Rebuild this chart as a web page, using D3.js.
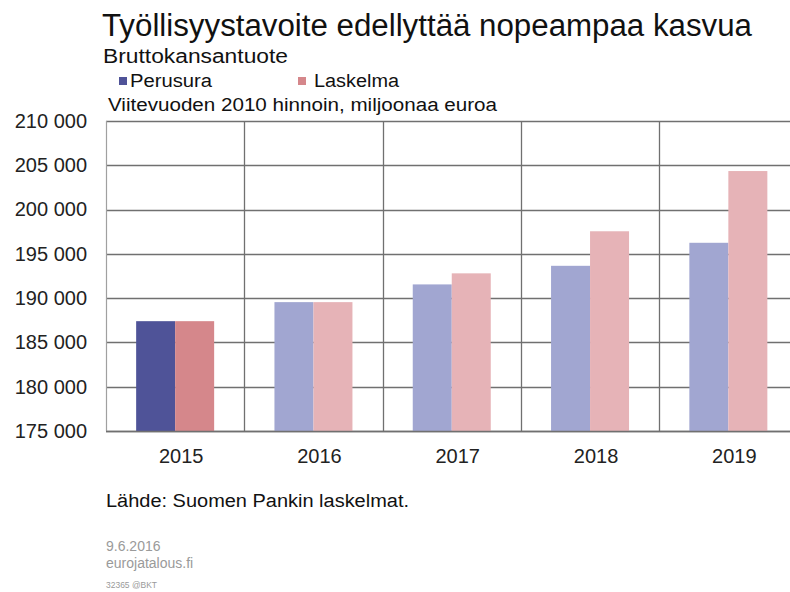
<!DOCTYPE html>
<html>
<head>
<meta charset="utf-8">
<script src="https://cdn.jsdelivr.net/npm/d3@7"></script>
<style>
  html, body { margin: 0; padding: 0; background: #fff; }
  svg { display: block; font-family: "Liberation Sans", Arial, sans-serif; }
</style>
</head>
<body>
<svg id="chart" width="790" height="592"></svg>
<script>
// GDP at reference-year 2010 prices, million euro
const years = ["2015", "2016", "2017", "2018", "2019"];
const perusura = [187400, 189550, 191550, 193650, 196250];
const laskelma = [187400, 189550, 192800, 197550, 204350];
const seriesNames = ["Perusura", "Laskelma"];
const yTicks = [175000, 180000, 185000, 190000, 195000, 200000, 205000, 210000];

// first year is actual data (strong colour), forecast years are lighter
const strongColors = ["#4f5398", "#d5878b"];
const lightColors = ["#a1a6d1", "#e6b3b7"];

const svg = d3.select("#chart");

const plot = { left: 106, top: 121, bottom: 431, right: 797.5 };

const x = d3.scaleBand().domain(years).range([plot.left, plot.right]).padding(0);
const inner = d3.scaleBand().domain(seriesNames).range([-39, 39]).padding(0);
const y = d3.scaleLinear().domain([175000, 210000]).range([plot.bottom, plot.top]);

const fmt = d3.formatLocale({ decimal: ",", thousands: " ", grouping: [3], currency: ["", " €"] }).format(",d");

const clip = svg.append("clipPath").attr("id", "vis").append("rect")
  .attr("x", 0).attr("y", 0).attr("width", 790).attr("height", 592);

// grid
const grid = svg.append("g").attr("clip-path", "url(#vis)");
grid.selectAll("line.h").data(yTicks).join("line")
  .attr("x1", plot.left).attr("x2", plot.right)
  .attr("y1", d => Math.round(y(d)) + 0.5).attr("y2", d => Math.round(y(d)) + 0.5)
  .attr("stroke", "#707070").attr("stroke-width", 1.3);
grid.selectAll("line.v").data(years.slice(1)).join("line")
  .attr("x1", d => Math.round(x(d)) + 0.5).attr("x2", d => Math.round(x(d)) + 0.5)
  .attr("y1", plot.top).attr("y2", plot.bottom)
  .attr("stroke", "#707070").attr("stroke-width", 1.3);
grid.append("line")
  .attr("x1", plot.left + 0.5).attr("x2", plot.left + 0.5)
  .attr("y1", plot.top).attr("y2", plot.bottom)
  .attr("stroke", "#a0a0a0").attr("stroke-width", 1.2);

// bars
const rows = years.map((yr, i) => ({ year: yr, i, values: [perusura[i], laskelma[i]] }));
const groups = svg.append("g").selectAll("g").data(rows).join("g")
  .attr("transform", d => `translate(${x(d.year) + x.bandwidth() / 2},0)`);
groups.selectAll("rect").data(d => d.values.map((v, s) => ({ v, s, i: d.i }))).join("rect")
  .attr("x", d => inner(seriesNames[d.s]))
  .attr("width", inner.bandwidth())
  .attr("y", d => y(d.v))
  .attr("height", d => y(175000) - y(d.v))
  .attr("fill", d => d.i === 0 ? strongColors[d.s] : lightColors[d.s]);

// bottom axis line on top of bars
svg.append("line")
  .attr("x1", plot.left).attr("x2", 790)
  .attr("y1", Math.round(y(175000)) + 0.5).attr("y2", Math.round(y(175000)) + 0.5)
  .attr("stroke", "#707070").attr("stroke-width", 1.3);

// y axis labels
const yAxis = d3.axisLeft(y).tickValues(yTicks).tickFormat(fmt).tickSize(0).tickPadding(0);
const yg = svg.append("g").attr("transform", "translate(87,0)").call(yAxis);
yg.select(".domain").remove();
yg.selectAll("text").attr("font-size", 20).attr("fill", "#222")
  .attr("font-family", "'Liberation Sans', Arial, sans-serif");

// x axis labels
const xAxis = d3.axisBottom(x).tickSize(0).tickPadding(0);
const xg = svg.append("g").attr("transform", "translate(6,448)").call(xAxis);
xg.select(".domain").remove();
xg.selectAll("text").attr("font-size", 20).attr("fill", "#222")
  .attr("font-family", "'Liberation Sans', Arial, sans-serif").attr("dy", 0).attr("y", 15);

// text helper: fit to a given width
function label(txt, xPos, yPos, size, width, color) {
  const t = svg.append("text").attr("x", xPos).attr("y", yPos)
    .attr("font-size", size).attr("fill", color || "#111").text(txt);
  if (width) t.attr("textLength", width).attr("lengthAdjust", "spacingAndGlyphs");
  return t;
}

label("Työllisyystavoite edellyttää nopeampaa kasvua", 102, 36, 31, 650, "#111");
label("Bruttokansantuote", 103, 63, 20, 185, "#111");

// legend
const legendX = [119, 298];
const legendTextX = [130, 314];
const legendW = [82, 85];
seriesNames.forEach((name, s) => {
  svg.append("rect").attr("x", legendX[s]).attr("y", 77).attr("width", 8).attr("height", 8)
    .attr("fill", strongColors[s]);
  label(name, legendTextX[s], 87, 18, legendW[s], "#111");
});

label("Viitevuoden  2010 hinnoin, miljoonaa  euroa", 108, 111, 18, 389, "#111");

label("Lähde: Suomen Pankin laskelmat.", 106, 507, 18, 303, "#111");
label("9.6.2016", 106, 551, 14, null, "#9a9a9a");
label("eurojatalous.fi", 106, 568, 14, null, "#9a9a9a");
label("32365 @BKT", 106, 588, 9, 51, "#9a9a9a");
</script>
</body>
</html>
